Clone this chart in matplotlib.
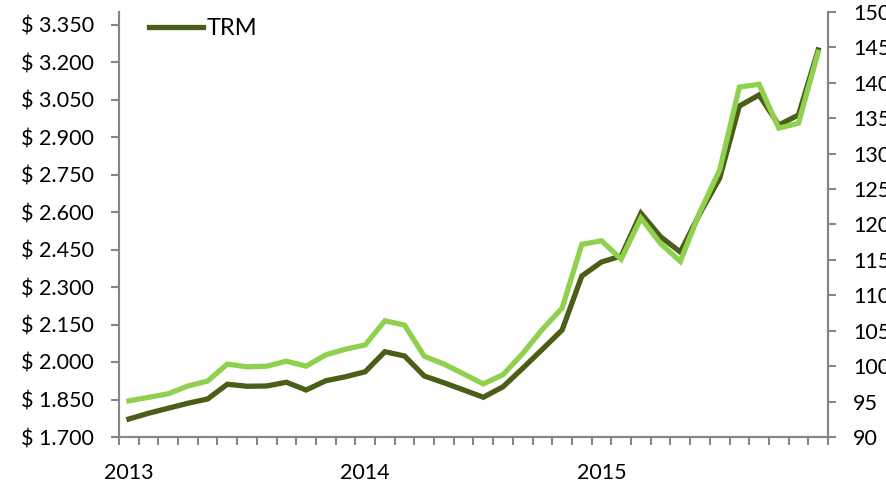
import matplotlib
matplotlib.use("Agg")
import matplotlib.pyplot as plt
from matplotlib.ticker import FixedLocator

# monthly data Jan 2013 - Dec 2015
trm = [1772, 1795, 1815, 1835, 1852, 1911, 1903, 1904, 1919, 1888, 1925, 1941,
       1961, 2041, 2024, 1944, 1917, 1888, 1859, 1901, 1975, 2051, 2128, 2344,
       2400, 2424, 2595, 2501, 2440, 2595, 2735, 3024, 3068, 2948, 2988, 3248]
index = [95.1, 95.6, 96.1, 97.2, 97.9, 100.3, 99.9, 100.0, 100.7, 100.0, 101.6, 102.4,
         103.0, 106.4, 105.8, 101.4, 100.3, 98.9, 97.5, 98.8, 101.8, 105.2, 108.2, 117.2,
         117.7, 115.1, 120.9, 117.3, 114.8, 121.8, 127.7, 139.4, 139.8, 133.6, 134.3, 144.3]
year_labels = ["2013", "2014", "2015"]
year_pos = [0, 12, 24]

left_ticks = list(range(1700, 3351, 150))
right_ticks = list(range(90, 151, 5))

dark = "#4b5e17"
light = "#8fd14f"
grey = "#868686"
font = "Lato"

fig = plt.figure(figsize=(8.87, 4.87), dpi=100)
ax = fig.add_axes([119 / 887, 50 / 487, (828 - 119) / 887, 425 / 487])
ax2 = ax.twinx()

x = list(range(len(trm)))
ax.plot(x, trm, color=dark, lw=3.8, solid_joinstyle="miter", label="TRM")
ax2.plot(x, index, color=light, lw=3.8, solid_joinstyle="miter")

ax.set_xlim(-0.5, len(trm) - 0.5)
ax.set_ylim(1700, 3400)
ax2.set_ylim(90, 150)

ax.set_yticks(left_ticks)
ax.set_yticklabels(["$ " + f"{v:,}".replace(",", ".") for v in left_ticks])
ax2.set_yticks(right_ticks)
ax2.set_yticklabels([str(v) for v in right_ticks])

ax.xaxis.set_major_locator(FixedLocator([i - 0.5 for i in range(len(trm) + 1)]))
ax.xaxis.set_major_formatter(plt.NullFormatter())
ax.xaxis.set_minor_locator(FixedLocator(year_pos))
ax.set_xticklabels(year_labels, minor=True)

for a in (ax, ax2):
    for s in a.spines.values():
        s.set_color(grey)
        s.set_linewidth(1.5)
    a.spines["top"].set_visible(False)

ax.tick_params(axis="y", direction="out", length=6, width=1.5, color=grey,
               pad=12, labelsize=15.5)
ax2.tick_params(axis="y", direction="out", length=6, width=1.5, color=grey,
                pad=12, labelsize=15.5)
ax.tick_params(axis="x", which="major", direction="out", length=6, width=1.5, color=grey)
ax.tick_params(axis="x", which="minor", length=0, pad=19, labelsize=15.5)

for lab in ax.get_yticklabels() + ax2.get_yticklabels() + ax.get_xticklabels(minor=True):
    lab.set_fontfamily(font)

leg = ax.legend(loc="upper left", bbox_to_anchor=(0.012, 1.035), frameon=False,
                handlelength=2.3, handletextpad=0.15, prop={"family": font, "size": 17})

fig.savefig("out.png", dpi=100)
